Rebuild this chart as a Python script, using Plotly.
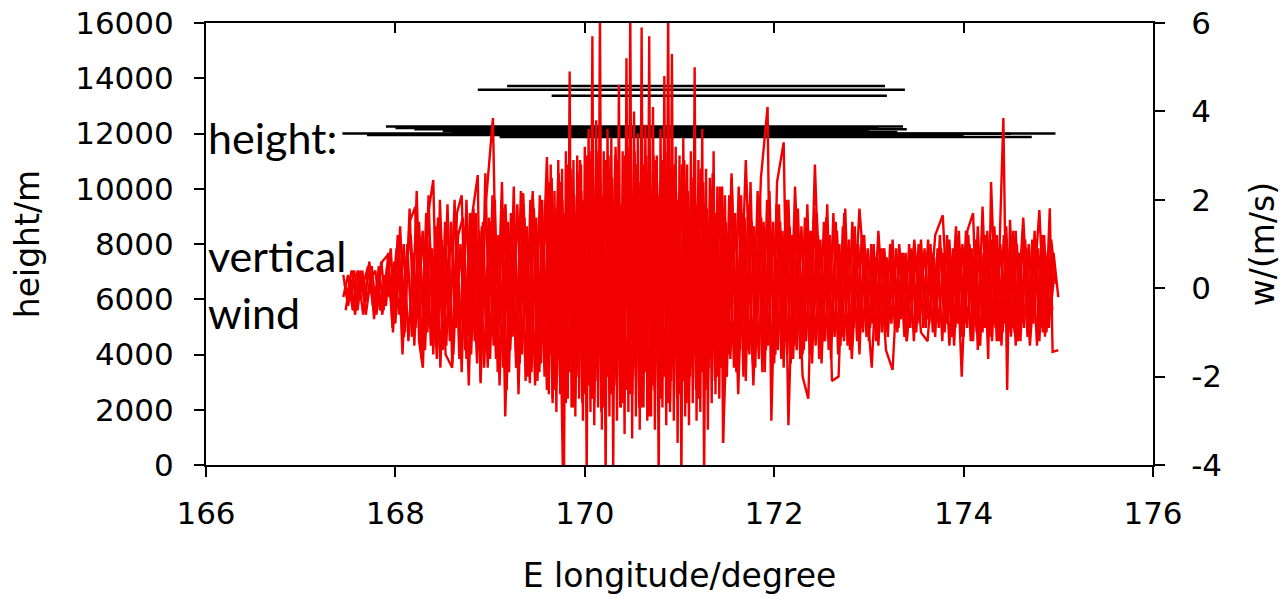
import plotly.graph_objects as go

# ---------------- data ----------------
# flight tracks (height, m)
track_lon_start = [167.44, 167.90, 168.20, 167.70, 168.50, 169.10, 168.00, 168.60, 169.50, 170.30,
                   168.87, 169.18, 169.65]
track_lon_end   = [174.97, 173.36, 173.40, 172.50, 173.00, 174.72, 173.10, 173.30, 174.00, 174.50,
                   173.38, 173.17, 173.19]
track_height    = [12000, 12250, 12150, 11950, 12080, 11870, 12200, 12050, 11920, 11990,
                   13580, 13720, 13370]

# vertical wind series A (lon 167.45 .. 175.00, step 0.05)
wA_start, wA_step = 167.45, 0.05
wA = [0.3, -0.4, 0.2, -0.5, 0.4, -0.3, 0.5, -0.6, 0.6, -0.4,
      0.9, -0.8, 1.4, -1.0, 1.8, -1.3, 1.5, -1.2, 2.1, -1.5,
      1.6, -1.4, 1.9, -1.7, 1.3, -1.9, 2.0, -1.5, 1.7, -2.1,
      2.6, -1.6, 2.0, -2.2, 1.8, -1.9, 2.3, -2.4, 1.9, -2.0,
      2.2, -2.1, 2.0, -2.3, 2.5, -2.2, 2.4, -2.6, 2.7, -2.5,
      2.9, -2.4, 3.1, -2.6, 2.8, -2.7, 3.0, -2.3, 2.9, -2.6,
      3.2, -2.4, 2.8, -2.7, 3.0, -2.3, 2.9, -2.5, 3.1, -2.6,
      2.8, -2.4, 2.9, -2.2, 2.5, -2.5, 2.4, -2.1, 2.6, -2.0,
      2.3, -2.0, 2.5, -1.9, 2.1, -2.1, 2.4, -1.8, 2.0, -1.9,
      2.2, -1.7, 1.9, -1.8, 2.0, -1.6, 1.8, -1.5, 1.9, -1.7,
      1.7, -1.5, 1.6, -1.6, 1.5, -1.3, 1.8, -1.4, 1.4, -1.5,
      1.2, -1.2, 1.0, -1.3, 0.9, -1.1, 1.1, -1.0, 0.8, -1.2,
      0.9, -1.0, 1.1, -0.9, 1.0, -1.1, 1.2, -1.0, 1.1, -1.3,
      1.3, -1.1, 1.2, -1.2, 1.4, -1.0, 1.3, -1.2, 1.2, -1.3,
      1.4, -1.1, 1.3, -1.2, 1.1, -1.0, 1.3, -1.2, 1.2, -0.9,
      0.8, -0.2]

# vertical wind series B (lon 167.475 .. 174.975, step 0.05)
wB_start, wB_step = 167.475, 0.05
wB = [-0.5, 0.2, -0.6, 0.4, -0.3, 0.6, -0.7, 0.5, -0.5, 0.8,
      -1.0, 1.2, -1.5, 1.0, -1.1, 2.2, -1.6, 1.7, -1.3, 1.4,
      -1.8, 1.5, -1.2, 2.0, -1.6, 1.4, -2.2, 1.8, -1.4, 1.5,
      -1.8, 2.1, -1.5, 2.4, -2.3, 1.7, -1.8, 2.2, -2.1, 2.0,
      -2.2, 2.1, -2.0, 2.4, -2.3, 2.6, -2.4, 2.8, -2.7, 2.6,
      -2.6, 3.0, -2.5, 3.1, -2.8, 2.9, -2.4, 3.2, -2.7, 3.0,
      -2.4, 3.1, -2.7, 2.8, -2.9, 3.0, -2.3, 2.9, -2.6, 2.8,
      -2.5, 2.8, -2.6, 2.5, -2.3, 2.7, -2.3, 2.2, -2.1, 2.3,
      -2.2, 2.1, -1.8, 2.3, -2.0, 1.9, -1.7, 2.2, -1.9, 2.0,
      -1.8, 1.9, -1.6, 2.0, -1.7, 1.7, -1.6, 1.6, -1.5, 1.8,
      -1.6, 1.5, -1.4, 1.7, -1.5, 1.4, -1.3, 1.5, -1.2, 1.2,
      -1.1, 1.0, -1.2, 0.9, -1.0, 1.0, -0.9, 0.8, -1.1, 1.0,
      -1.2, 1.0, -0.9, 1.1, -1.0, 0.9, -1.2, 1.2, -1.1, 1.2,
      -1.1, 1.3, -1.2, 1.1, -1.3, 1.2, -1.1, 1.4, -1.2, 1.2,
      -1.0, 1.3, -1.2, 1.2, -1.1, 1.1, -1.3, 1.2, -1.0, 1.1,
      0.1]

# vertical wind series E (lon 167.4625 .. , step 0.05)
wE_start, wE_step = 167.4625, 0.05
wE = [0.1, -0.3, 0.4, -0.2, 0.1, 0.5, -0.4, 0.2, -0.6, 0.5,
      -0.4, 0.9, -0.7, 0.6, 1.2, -0.9, 0.8, -1.4, 1.1, -0.8,
      1.3, -1.0, 0.7, -1.5, 1.2, 1.6, -1.1, 0.9, -1.7, 1.4,
      -1.2, 1.5, -1.6, 0.8, 1.9, -1.4, 1.2, -1.7, 1.6, -1.3,
      1.8, -1.5, 1.4, -1.9, 1.7, -1.6, 2.0, -1.8, 1.6, -2.0,
      2.2, -1.9, 1.8, -2.1, 2.4, -1.7, 2.0, -2.2, 1.9, -2.0,
      2.3, -1.8, 2.1, -2.0, 1.9, -2.2, 2.4, -1.9, 2.0, -2.1,
      2.2, -1.9, 1.8, -2.0, 2.1, -1.7, 1.9, -1.8, 1.6, -1.7,
      1.8, -1.5, 1.4, -1.6, 1.7, -1.4, 1.5, -1.3, 1.6, -1.4,
      1.3, -1.5, 1.5, -1.2, 1.4, -1.3, 1.2, -1.4, 1.3, -1.1,
      1.2, -1.2, 1.1, -1.0, 1.3, -1.1, 0.9, -1.2, 1.0, -0.9,
      0.8, -0.9, 0.7, -0.8, 0.9, -0.7, 0.6, -0.9, 0.8, -0.6,
      0.7, -0.8, 0.6, -0.7, 0.8, -0.6, 0.9, -0.8, 0.7, -0.9,
      0.9, -0.8, 1.0, -0.7, 0.8, -0.9, 1.0, -0.8, 0.9, -1.0,
      0.8, -0.9, 1.0, -0.8, 0.9, -0.7, 1.0, -0.9, 0.8, -0.6,
      0.4]

# vertical wind series F (lon 167.4875 .. , step 0.05)
wF_start, wF_step = 167.4875, 0.05
wF = [-0.2, 0.4, -0.1, 0.3, -0.6, 0.2, 0.4, -0.5, 0.3, -0.2,
      0.6, -0.6, 1.0, -1.2, 0.8, -0.7, 1.3, -1.0, 0.9, -1.6,
      1.1, -1.3, 1.5, -0.9, 1.0, -1.4, 1.7, -1.2, 1.3, -1.8,
      1.6, -1.3, 1.2, -1.8, 1.5, -1.1, 1.9, -1.5, 1.4, -1.9,
      1.6, -1.7, 2.0, -1.5, 1.8, -2.0, 1.7, -1.9, 2.1, -1.8,
      2.0, -2.2, 2.3, -1.8, 2.1, -2.0, 2.5, -2.1, 1.9, -2.3,
      2.2, -2.0, 2.4, -1.9, 2.0, -2.3, 2.1, -2.0, 2.3, -1.8,
      2.0, -2.1, 2.2, -1.8, 1.9, -1.9, 1.8, -1.6, 1.7, -1.8,
      1.5, -1.6, 1.7, -1.4, 1.6, -1.5, 1.4, -1.6, 1.5, -1.3,
      1.5, -1.4, 1.3, -1.5, 1.2, -1.4, 1.4, -1.2, 1.3, -1.3,
      1.1, -1.2, 1.2, -1.1, 1.0, -1.2, 1.1, -0.9, 1.0, -1.0,
      0.9, -0.8, 0.8, -1.0, 0.7, -0.8, 0.9, -0.7, 0.8, -0.9,
      0.8, -0.7, 0.9, -0.8, 0.7, -0.9, 0.8, -0.7, 0.9, -0.8,
      1.0, -0.9, 0.9, -1.0, 0.8, -0.9, 1.1, -0.9, 1.0, -0.8,
      0.9, -1.0, 0.8, -0.9, 1.0, -0.8, 0.9, -1.0, 0.7, -0.5]

# vertical wind series C, west part (peaks)
wC1_lon = [167.45, 167.50, 167.55, 167.60, 167.66, 167.72, 167.78, 167.86, 167.92, 167.97,
           168.03, 168.09, 168.15, 168.21, 168.25, 168.29, 168.34, 168.40, 168.44, 168.47,
           168.53, 168.60, 168.65, 168.70, 168.75, 168.80, 168.87, 168.90, 168.95, 169.03,
           169.08, 169.12, 169.16, 169.22, 169.28, 169.35, 169.42, 169.45, 169.52, 169.60,
           169.66, 169.72, 169.77]
wC1 = [-0.2, 0.3, -0.5, 0.4, -0.6, 0.5, -0.4, 0.6, 0.75, -0.9,
       1.2, -1.1, 1.5, 1.84, -1.2, -1.8, 1.6, 2.45, -1.3, 2.0,
       -1.5, -1.8, 1.7, 2.1, -1.6, 1.5, 2.56, -2.15, 1.8, 3.85,
       -1.9, 2.0, -2.9, 1.7, -1.8, 2.15, -2.15, 2.1, -1.9, 2.97,
       -2.5, 2.6, -4.4]

# vertical wind series C, east part (peaks)
wC2_lon = [171.46, 171.55, 171.62, 171.70, 171.78, 171.86, 171.93, 171.97, 172.03, 172.10,
           172.15, 172.22, 172.30, 172.36, 172.43, 172.50, 172.56, 172.61, 172.68, 172.74,
           172.82, 172.90, 173.03, 173.10, 173.18, 173.25, 173.32, 173.40, 173.48, 173.55,
           173.62, 173.70, 173.78, 173.85, 173.92, 173.98, 174.04, 174.10, 174.15, 174.20,
           174.26, 174.29, 174.35, 174.42, 174.46, 174.49, 174.55, 174.63, 174.70, 174.80,
           174.86, 174.91, 174.94, 175.00]
wC2 = [-3.5, 2.6, -2.4, 2.9, -2.2, 2.5, 4.1, -3.0, 2.4, 3.3,
       -3.1, 2.3, -2.0, -2.5, 2.8, -1.7, 1.9, -2.1, -2.0, 1.7,
       -1.6, 1.8, -1.8, 1.3, -1.4, -1.85, 1.0, -1.2, 1.1, -1.0,
       -1.2, 1.2, 1.65, -1.3, 1.4, -2.0, 1.3, 1.7, -1.4, 1.85,
       -1.6, 2.4, -1.2, 3.85, -2.3, 1.55, -1.3, 1.6, -1.3, 1.77,
       -1.1, 1.81, -1.44, -1.4]

# vertical wind series D, strong core (lon 169.60 .. 171.50, step 0.02)
wD_start, wD_step = 169.60, 0.02
wD = [2.5, -2.4, 2.8, -2.6, 2.2, -2.8, 2.9, -2.4, 2.7, -4.3,
      3.1, -2.5, 4.9, -2.7, 2.9, -2.9, 3.0, -2.5, 2.8, -3.0,
      3.2, -4.3, 3.6, -2.8, 5.7, -3.1, 3.8, -2.7, 6.3, -3.2,
      3.1, -4.4, 3.6, -2.9, 3.4, -4.2, 3.0, -3.0, 4.6, -2.7,
      3.1, -3.3, 5.2, -2.8, 6.4, -3.4, 4.0, -2.9, 3.5, -3.2,
      5.9, -2.7, 3.7, -3.0, 5.7, -2.9, 4.1, -3.2, 3.0, -4.4,
      3.6, -2.7, 4.8, -3.1, 6.4, -2.8, 5.3, -3.0, 3.2, -3.5,
      3.0, -4.4, 3.4, -2.9, 2.8, -3.1, 3.1, -2.6, 5.0, -3.0,
      2.9, -2.8, 3.6, -4.4, 2.7, -3.2, 2.5, -2.6, 3.1, -2.4,
      2.3, -2.5, 2.2, -3.5, 2.1, -2.0]

# axis ticks
x_ticks = [166, 168, 170, 172, 174, 176]
h_ticks = [0, 2000, 4000, 6000, 8000, 10000, 12000, 14000, 16000]
w_ticks = [-4, -2, 0, 2, 4, 6]

# ---------------- figure ----------------
RED = "#f00000"
fig = go.Figure()

for x0, x1, h in zip(track_lon_start, track_lon_end, track_height):
    fig.add_trace(go.Scatter(x=[x0, x1], y=[h, h], mode="lines",
                             line=dict(color="black", width=2.5),
                             xaxis="x", yaxis="y", showlegend=False, hoverinfo="skip"))

def grid(start, step, n):
    return [round(start + step * k, 4) for k in range(n)]

red_series = [
    (grid(wE_start, wE_step, len(wE)), wE),
    (grid(wF_start, wF_step, len(wF)), wF),
    (grid(wA_start, wA_step, len(wA)), wA),
    (grid(wB_start, wB_step, len(wB)), wB),
    (wC1_lon, wC1),
    (wC2_lon, wC2),
    (grid(wD_start, wD_step, len(wD)), wD),
]
for xs, ys in red_series:
    fig.add_trace(go.Scatter(x=xs, y=ys, mode="lines",
                             line=dict(color=RED, width=2.4),
                             xaxis="x", yaxis="y2", showlegend=False, hoverinfo="skip"))

# invisible trace for the top frame axis
fig.add_trace(go.Scatter(x=[166, 176], y=[None, None], xaxis="x2", yaxis="y",
                         showlegend=False, hoverinfo="skip"))

tick_font = dict(family="DejaVu Sans", size=31, color="black")
title_font = dict(family="DejaVu Sans", size=33, color="black")

fig.update_layout(
    width=1282, height=598,
    margin=dict(l=206, r=129, t=23, b=133, autoexpand=False),
    paper_bgcolor="white", plot_bgcolor="white",
    xaxis=dict(range=[166, 176], tickvals=x_ticks, ticktext=[str(v) for v in x_ticks],
               ticks="outside", ticklen=10, automargin=False,
               tickwidth=2, tickcolor="black", showline=True, linecolor="black",
               linewidth=2, showgrid=False, zeroline=False, tickfont=tick_font,
               ticklabelstandoff=10,
               title=dict(text="E longitude/degree", font=title_font, standoff=34)),
    xaxis2=dict(range=[166, 176], overlaying="x", side="top", tickvals=x_ticks,
                ticks="inside", ticklen=10, tickwidth=2, tickcolor="black",
                showline=True, linecolor="black", linewidth=2, showticklabels=False,
                showgrid=False, zeroline=False, automargin=False),
    yaxis=dict(range=[0, 16000], tickvals=h_ticks, ticktext=[str(v) for v in h_ticks],
               ticks="outside", ticklen=10, automargin=False,
               tickwidth=2, tickcolor="black", showline=True, linecolor="black",
               linewidth=2, showgrid=False, zeroline=False, tickfont=tick_font,
               ticklabelstandoff=14,
               title=dict(text="height/m", font=title_font, standoff=26)),
    yaxis2=dict(range=[-4, 6], tickvals=w_ticks, ticktext=[str(v) for v in w_ticks],
                overlaying="y", side="right", automargin=False,
                ticks="outside", ticklen=10, tickwidth=2, tickcolor="black",
                showline=True, linecolor="black", linewidth=2, showgrid=False,
                zeroline=False, tickfont=tick_font, ticklabelstandoff=20,
                title=dict(text="w/(m/s)", font=title_font, standoff=34)),
    annotations=[
        dict(text="height:", xref="paper", yref="paper", x=0.0, y=0.74,
             xanchor="left", yanchor="middle", showarrow=False,
             font=dict(family="Lato", size=43, color="black")),
        dict(text="vertical", xref="paper", yref="paper", x=0.0, y=0.475,
             xanchor="left", yanchor="middle", showarrow=False,
             font=dict(family="Lato", size=43, color="black")),
        dict(text="wind", xref="paper", yref="paper", x=0.0, y=0.346,
             xanchor="left", yanchor="middle", showarrow=False,
             font=dict(family="Lato", size=43, color="black")),
    ],
)

fig.write_html("out.html")
